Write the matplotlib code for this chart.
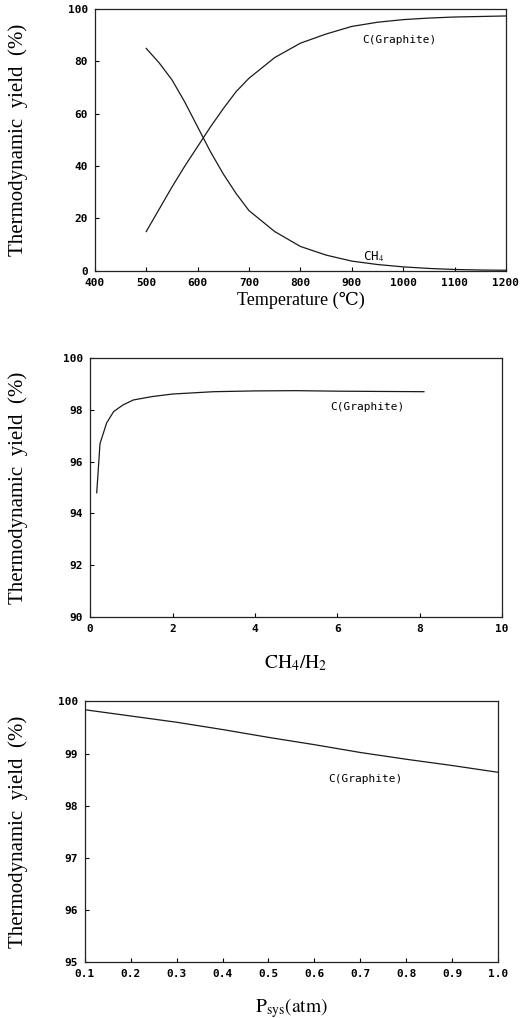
import matplotlib
matplotlib.use('Agg')
import matplotlib.pyplot as plt
from matplotlib.font_manager import FontProperties
import numpy as np

plt.rcParams['mathtext.fontset'] = 'stix'

# Panel 1: yield vs temperature
temp = [500, 525, 550, 575, 600, 625, 650, 675, 700, 750, 800, 850, 900, 950, 1000, 1050, 1100, 1150, 1200]
graphite_t = [15, 23.5, 32, 40, 47.5, 55, 62, 68.5, 73.6, 81.5, 87, 90.5, 93.4, 95, 96, 96.6, 97, 97.2, 97.4]
ch4_t = [85, 79.5, 73, 64.5, 55, 45.5, 37, 29.5, 23, 15, 9.3, 6, 3.7, 2.4, 1.5, 0.9, 0.5, 0.3, 0.2]

# Panel 2: yield vs CH4/H2 ratio
ratio = [0.16, 0.24, 0.4, 0.57, 0.8, 1.05, 1.5, 2.0, 3.0, 4.0, 5.0, 6.0, 7.0, 8.1]
graphite_r = [94.8, 96.7, 97.5, 97.94, 98.2, 98.39, 98.52, 98.62, 98.71, 98.74, 98.75, 98.73, 98.72, 98.71]

# Panel 3: yield vs system pressure
press = [0.1, 0.2, 0.3, 0.4, 0.5, 0.6, 0.7, 0.8, 0.9, 1.0]
graphite_p = [99.84, 99.72, 99.6, 99.46, 99.31, 99.17, 99.02, 98.89, 98.77, 98.64]

tick_font = FontProperties(family='DejaVu Sans Mono', weight='bold', size=8)
serif = ['Liberation Serif', 'DejaVu Serif']
ylab = 'Thermodynamic  yield  (%)'
line_kw = dict(color='#1a1a1a', lw=0.9)

fig = plt.figure(figsize=(5.27, 10.18), dpi=100)

ax1 = fig.add_axes([0.180, 0.734, 0.780, 0.257])
ax2 = fig.add_axes([0.171, 0.394, 0.782, 0.254])
ax3 = fig.add_axes([0.161, 0.055, 0.784, 0.256])

ax1.plot(temp, graphite_t, **line_kw)
ax1.plot(temp, ch4_t, **line_kw)
ax1.set_xlim(400, 1200)
ax1.set_ylim(0, 100)
ax1.set_xticks(range(400, 1201, 100))
ax1.set_yticks(range(0, 101, 20))
ax1.text(921, 87, 'C(Graphite)', fontsize=8, family='DejaVu Sans Mono')
ax1.text(921, 4.0, 'CH$_4$', fontsize=9, family='DejaVu Sans Mono')
ax1.set_xlabel('Temperature (\u2103)', family=serif, fontsize=13, labelpad=3)

ax2.plot(ratio, graphite_r, **line_kw)
ax2.set_xlim(0, 10)
ax2.set_ylim(90, 100)
ax2.set_xticks(range(0, 11, 2))
ax2.set_yticks(range(90, 101, 2))
ax2.text(5.83, 98.0, 'C(Graphite)', fontsize=8, family='DejaVu Sans Mono')
ax2.set_xlabel(r'$\mathrm{CH_4/H_2}$', fontsize=14, labelpad=14)

ax3.plot(press, graphite_p, **line_kw)
ax3.set_xlim(0.1, 1.0)
ax3.set_ylim(95, 100)
ax3.set_xticks(np.round(np.arange(0.1, 1.01, 0.1), 1))
ax3.set_yticks(range(95, 101))
ax3.text(0.63, 98.45, 'C(Graphite)', fontsize=8, family='DejaVu Sans Mono')
ax3.set_xlabel(r'$\mathrm{P_{sys}(atm)}$', fontsize=14, labelpad=12)

for ax in (ax1, ax2, ax3):
    ax.tick_params(direction='in', length=3, width=0.8, top=False, right=False, pad=5)
    for lab in ax.get_xticklabels() + ax.get_yticklabels():
        lab.set_fontproperties(tick_font)
    for sp in ax.spines.values():
        sp.set_linewidth(0.9)
        sp.set_color('#222222')

# y labels placed in figure coordinates, centred on each panel
for ax in (ax1, ax2, ax3):
    pos = ax.get_position()
    fig.text(18 / 527, (pos.y0 + pos.y1) / 2, ylab, family=serif, fontsize=15,
             rotation=90, ha='center', va='center')

fig.savefig('out.png', dpi=100)
